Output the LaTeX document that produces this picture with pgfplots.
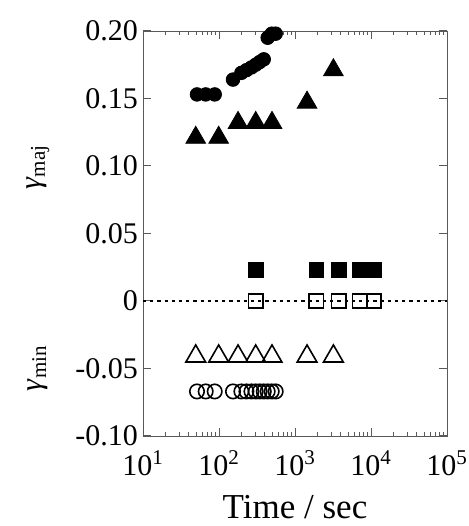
\documentclass[border=0pt]{standalone}
\usepackage{fontspec}
\setmainfont{Liberation Serif}
\usepackage{pgfplots}
\pgfplotsset{compat=1.18}

\begin{document}
\begin{tikzpicture}
\begin{axis}[
  scale only axis, width=152pt, height=202.5pt,
  xmode=log, xmin=10, xmax=1e5, ymin=-0.10, ymax=0.20,
  xtick={10,100,1000,10000,100000},
  xticklabels={10\textsuperscript{1},10\textsuperscript{2},10\textsuperscript{3},10\textsuperscript{4},10\textsuperscript{5}},
  ytick={-0.10,-0.05,0,0.05,0.10,0.15,0.20},
  yticklabels={-0.10,-0.05,0,0.05,0.10,0.15,0.20},
  tick align=inside, major tick length=4pt, minor tick length=2pt,
  axis line style={gray!70!black},
  every tick/.style={gray!70!black, line width=0.5pt},
  ticklabel style={font=\fontsize{15}{17}\selectfont},
  yticklabel style={xshift=1pt},
  xticklabel style={yshift=-4pt},
  xlabel={Time / sec},
  xlabel style={font=\fontsize{17.5}{20}\selectfont, at={(axis description cs:0.5,0)}, anchor=center, yshift=-35.5pt},
  clip=false,
]
  % zero line
  \addplot[black, line width=1.3pt, dash pattern=on 1.6pt off 2pt] coordinates {(10,0) (100000,0)};

  % gamma_maj, filled circles
  \addplot[only marks, mark=*, mark size=3.4pt, black] coordinates {
    (51.3,0.153) (66.8,0.153) (87.8,0.153) (152.8,0.164) (197,0.169)
    (229.6,0.171) (267,0.173) (304,0.175) (343,0.177) (388,0.179)
    (437,0.195) (494,0.198) (557,0.198)
  };
  % gamma_maj, filled triangles
  \addplot[only marks, mark=triangle*, mark size=5.7pt, black] coordinates {
    (49.4,0.121) (99,0.121) (178,0.132) (304,0.132) (498,0.132)
    (1440,0.147) (3200,0.171)
  };
  % gamma_maj, filled squares
  \addplot[only marks, mark=square*, mark size=3.6pt, black] coordinates {
    (304,0.023) (1914,0.023) (3760,0.023) (7100,0.023) (10850,0.023)
  };

  % gamma_min, open squares
  \addplot[only marks, mark=square, mark size=3.6pt, black, mark options={line width=0.8pt}] coordinates {
    (304,0) (1914,0) (3760,0) (7100,0) (10850,0)
  };
  % gamma_min, open triangles
  \addplot[only marks, mark=triangle, mark size=5.7pt, black, mark options={line width=0.8pt}] coordinates {
    (49.4,-0.041) (99,-0.041) (178,-0.041) (304,-0.041) (498,-0.041)
    (1440,-0.041) (3200,-0.041)
  };
  % gamma_min, open circles
  \addplot[only marks, mark=o, mark size=3.6pt, black, mark options={line width=0.8pt}] coordinates {
    (51.3,-0.067) (66.8,-0.067) (87.8,-0.067) (152.8,-0.067) (197,-0.067)
    (229.6,-0.067) (267,-0.067) (304,-0.067) (343,-0.067) (388,-0.067)
    (437,-0.067) (494,-0.067) (557,-0.067)
  };

  \node[rotate=90, font=\fontsize{15}{17}\selectfont] at (rel axis cs:-0.345,0.664) {\textit{γ}\textsubscript{maj}};
  \node[rotate=90, font=\fontsize{15}{17}\selectfont] at (rel axis cs:-0.345,0.168) {\textit{γ}\textsubscript{min}};

  \coordinate (sw) at (rel axis cs:0,0);
  \coordinate (ne) at (rel axis cs:1,1);
\end{axis}
\pgfresetboundingbox
\path ([shift={(-71.5pt,-45pt)}]sw) rectangle ([shift={(10.5pt,15.5pt)}]ne);
\end{tikzpicture}
\end{document}
